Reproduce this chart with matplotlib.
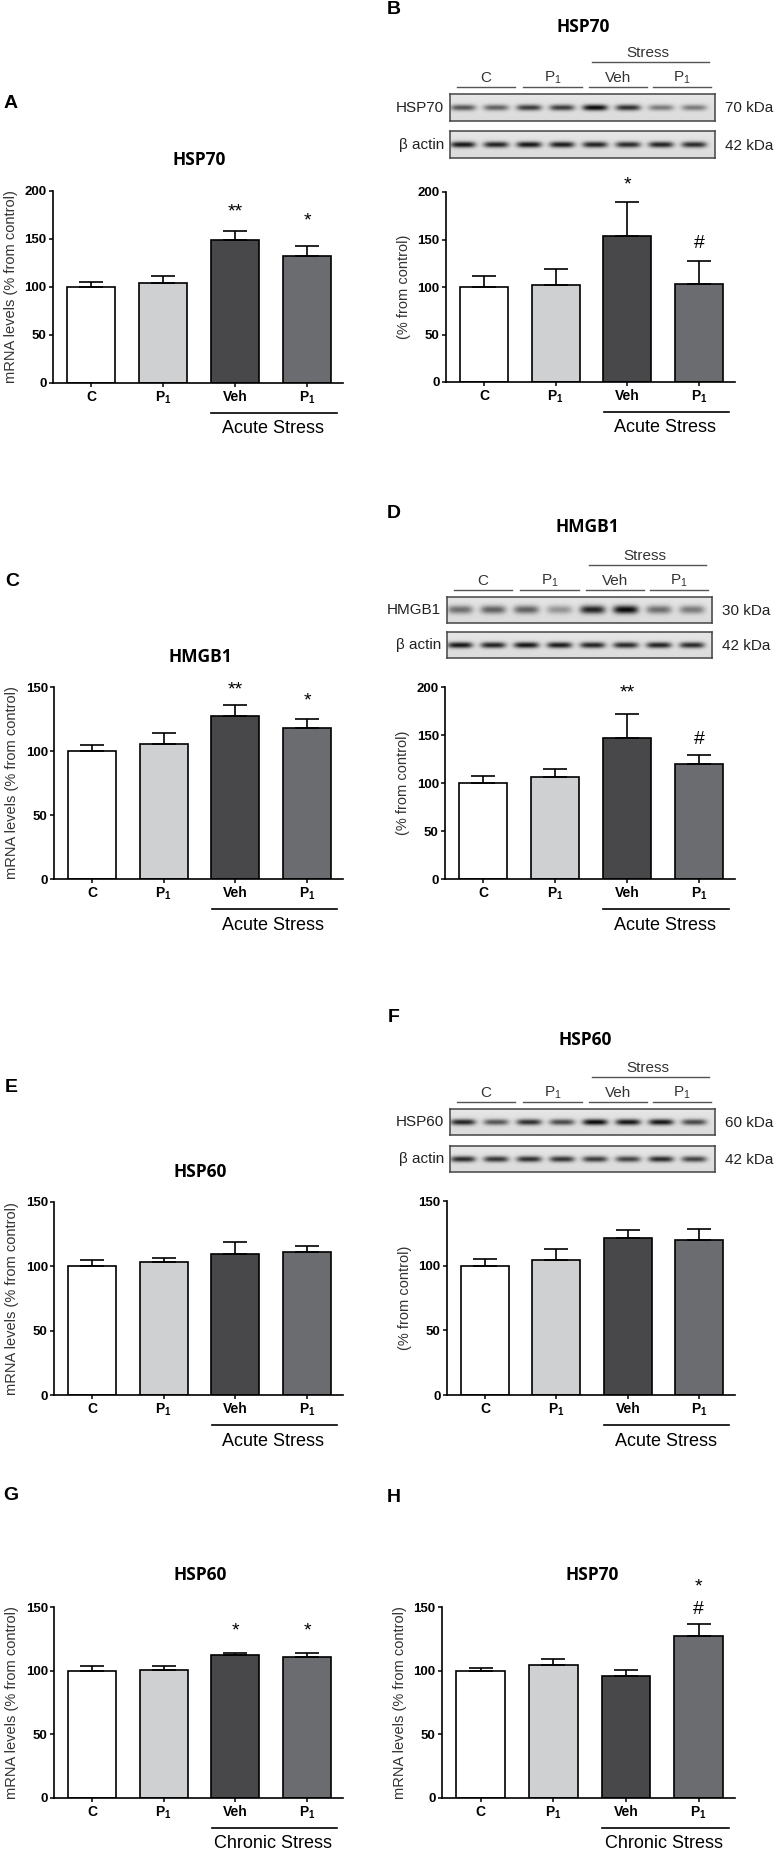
import numpy as np
import matplotlib
matplotlib.use("Agg")
import matplotlib.pyplot as plt
from matplotlib.lines import Line2D

plt.rcParams['font.family'] = ['Liberation Sans', 'DejaVu Sans']
plt.rcParams['mathtext.fontset'] = 'custom'
plt.rcParams['mathtext.rm'] = 'Liberation Sans'
plt.rcParams['mathtext.bf'] = 'Liberation Sans:bold'

W, H = 778, 1852

bar_colors = ['#ffffff', '#cfd0d2', '#48484a', '#6b6c70']
tick_labels = ['C', r'P$_\mathbf{1}$', 'Veh', r'P$_\mathbf{1}$']
lane_groups = ['C', r'P$_\mathrm{1}$', 'Veh', r'P$_\mathrm{1}$']

# bar values (% from control) and upper SEM
a_vals = [100, 104, 149, 132]
a_errs = [5, 7, 9, 10]
b_vals = [100, 101.7, 154, 103]
b_errs = [11.5, 17.5, 36, 24.5]
c_vals = [100, 105.7, 127, 117.7]
c_errs = [5, 8, 9, 7.5]
d_vals = [100, 106, 147, 120]
d_errs = [7.6, 9, 25, 8.7]
e_vals = [100, 103, 109.5, 111.3]
e_errs = [5, 3.6, 9.6, 4.6]
f_vals = [100, 104.6, 121.5, 119.5]
f_errs = [5, 8.2, 6, 9]
g_vals = [100, 100.8, 112, 111]
g_errs = [3.4, 3.1, 1.6, 2.6]
h_vals = [100, 104.7, 95.5, 127.5]
h_errs = [2, 4.7, 4.8, 9]

# significance marks: (bar, symbol, y position)
a_marks = [(2, '**', 178), (3, '*', 168)]
b_marks = [(2, '*', 207), (3, '#', 146)]
c_marks = [(2, '**', 148), (3, '*', 139)]
d_marks = [(2, '**', 194), (3, '#', 145)]
g_marks = [(2, '*', 131), (3, '*', 131)]
h_marks = [(3, '*', 166), (3, '#', 148)]

# western blot band darkness per lane
b_target_bands = [0.55, 0.5, 0.65, 0.65, 0.85, 0.7, 0.4, 0.4]
b_actin_bands = [0.8, 0.75, 0.8, 0.78, 0.75, 0.72, 0.75, 0.72]
d_target_bands = [0.45, 0.5, 0.5, 0.3, 0.75, 0.85, 0.45, 0.4]
d_actin_bands = [0.8, 0.75, 0.8, 0.78, 0.75, 0.72, 0.75, 0.72]
f_target_bands = [0.75, 0.55, 0.7, 0.6, 0.85, 0.8, 0.8, 0.6]
f_actin_bands = [0.72, 0.68, 0.7, 0.68, 0.65, 0.62, 0.72, 0.62]

fig = plt.figure(figsize=(W / 100, H / 100), dpi=100)


def px_axes(l, t, r, b):
    return fig.add_axes([l / W, 1 - b / H, (r - l) / W, (b - t) / H])


def ftext(x, y, s, **kw):
    fig.text(x / W, 1 - y / H, s, **kw)


def hline(x0, x1, y, color='black', lw=1.0):
    fig.add_artist(Line2D([x0 / W, x1 / W], [1 - y / H, 1 - y / H],
                          transform=fig.transFigure, color=color, lw=lw))


def bar_panel(box, ymax, vals, errs, marks, ylabel, stress):
    l, t, r, b = box
    ax = px_axes(l, t, r, b)
    x = np.arange(4)
    ax.bar(x, vals, width=0.67, color=bar_colors, edgecolor='black',
           linewidth=1.2, zorder=2)
    ax.errorbar(x, vals, yerr=[np.zeros(4), errs], fmt='none', ecolor='black',
                elinewidth=1.2, capsize=8.3, capthick=1.2, zorder=3)
    ax.set_xlim(-0.53, 3.5)
    ax.set_ylim(0, ymax)
    ax.set_yticks(np.arange(0, ymax + 1, 50))
    ax.set_xticks(x)
    ax.set_xticklabels(tick_labels, fontweight='bold', fontsize=10)
    for lab in ax.get_yticklabels():
        lab.set_fontweight('bold')
        lab.set_fontsize(9.5)
    ax.tick_params(axis='both', length=3, width=1.1, direction='out')
    ax.tick_params(axis='x', pad=2)
    ax.tick_params(axis='y', pad=1.5)
    for s in ['top', 'right']:
        ax.spines[s].set_visible(False)
    for s in ['left', 'bottom']:
        ax.spines[s].set_linewidth(1.2)
    ax.set_ylabel(ylabel, fontsize=10.5, color='#333333')
    # right edge of the rotated label sits at this x
    ax.yaxis.set_label_coords((-35) / (r - l), 0.5)
    for i, sym, yv in marks:
        ax.text(i, yv, sym, ha='center', va='center', fontsize=14)
    hpx = b - t
    ax.plot([1.67, 3.42], [-30 / hpx, -30 / hpx], transform=ax.get_xaxis_transform(),
            color='black', lw=1.2, clip_on=False)
    ax.text(2.53, -46 / hpx, stress, transform=ax.get_xaxis_transform(),
            ha='center', va='center', fontsize=13)
    return ax


def blot(box, bands, thick, label, kda):
    l, t, r, b = box
    ax = px_axes(l, t, r, b)
    w, h = r - l, b - t
    yy, xx = np.mgrid[0:h * 4, 0:w * 4] / 4.0
    img = np.full(xx.shape, 0.9)
    img -= 0.04 * (yy / h)
    for i, d in enumerate(bands):
        xc = w * (13 + 33 * i) / 265.0
        img -= d * np.exp(-((xx - xc) / 12.5) ** 4) * np.exp(-((yy - h / 2) / thick) ** 2)
    ax.imshow(np.clip(img, 0, 1), cmap='gray', vmin=0, vmax=1, aspect='auto',
              interpolation='bilinear')
    ax.set_xticks([])
    ax.set_yticks([])
    for s in ax.spines.values():
        s.set_color('#444444')
        s.set_linewidth(1.1)
    ftext(l - 6, (t + b) / 2, label, ha='right', va='center', fontsize=11, color='#222222')
    ftext(r + 10, (t + b) / 2 + 1, kda, ha='left', va='center', fontsize=11, color='#222222')


def blot_header(l, t):
    hline(l + 142, l + 259, t - 32, color='#555555', lw=1.0)
    ftext(l + 198, t - 41, 'Stress', ha='center', va='center', fontsize=11, color='#333333')
    spans = [(7, 65), (73, 132), (139, 197), (203, 261)]
    for (s0, s1), g in zip(spans, lane_groups):
        hline(l + s0, l + s1, t - 7, color='#555555', lw=1.0)
        ftext(l + (s0 + s1) / 2, t - 16, g, ha='center', va='center', fontsize=11,
              color='#333333')


mrna = 'mRNA levels (% from control)'
prot = '(% from control)'
title_kw = dict(ha='center', va='center', fontsize=12.5, fontweight='bold',
                family=['Open Sans', 'DejaVu Sans'])
letter_kw = dict(ha='center', va='center', fontsize=14, fontweight='bold')

# A
ftext(11, 103, 'A', **letter_kw)
ftext(199, 160, 'HSP70', **title_kw)
bar_panel((53, 190.7, 343, 382.7), 200, a_vals, a_errs, a_marks, mrna, 'Acute Stress')

# B
ftext(394, 10, 'B', **letter_kw)
ftext(583, 27, 'HSP70', **title_kw)
blot_header(450, 94)
blot((450, 94, 715, 121), b_target_bands, 3.0, 'HSP70', '70 kDa')
blot((450, 131, 715, 158), b_actin_bands, 3.0, 'β actin', '42 kDa')
bar_panel((446, 192, 735, 382), 200, b_vals, b_errs, b_marks, prot, 'Acute Stress')

# C
ftext(12, 582, 'C', **letter_kw)
ftext(200, 657, 'HMGB1', **title_kw)
bar_panel((54, 687, 343, 879), 150, c_vals, c_errs, c_marks, mrna, 'Acute Stress')

# D
ftext(394, 513, 'D', **letter_kw)
ftext(587, 527, 'HMGB1', **title_kw)
blot_header(447, 597)
blot((447, 597, 712, 623), d_target_bands, 4.0, 'HMGB1', '30 kDa')
blot((447, 632, 712, 658), d_actin_bands, 3.0, 'β actin', '42 kDa')
bar_panel((445, 687, 735, 879), 200, d_vals, d_errs, d_marks, prot, 'Acute Stress')

# E
ftext(11, 1087, 'E', **letter_kw)
ftext(200, 1172, 'HSP60', **title_kw)
bar_panel((54, 1202, 343, 1395), 150, e_vals, e_errs, [], mrna, 'Acute Stress')

# F
ftext(394, 1017, 'F', **letter_kw)
ftext(585, 1040, 'HSP60', **title_kw)
blot_header(450, 1109)
blot((450, 1109, 715, 1135), f_target_bands, 3.0, 'HSP60', '60 kDa')
blot((450, 1146, 715, 1172), f_actin_bands, 3.0, 'β actin', '42 kDa')
bar_panel((447, 1201, 735, 1395), 150, f_vals, f_errs, [], prot, 'Acute Stress')

# G
ftext(11, 1496, 'G', **letter_kw)
ftext(200, 1575, 'HSP60', **title_kw)
bar_panel((54, 1607, 343, 1798), 150, g_vals, g_errs, g_marks, mrna, 'Chronic Stress')

# H
ftext(394, 1497, 'H', **letter_kw)
ftext(592, 1575, 'HSP70', **title_kw)
bar_panel((442, 1607, 735, 1798), 150, h_vals, h_errs, h_marks, mrna, 'Chronic Stress')

fig.savefig('out.png', dpi=100)
